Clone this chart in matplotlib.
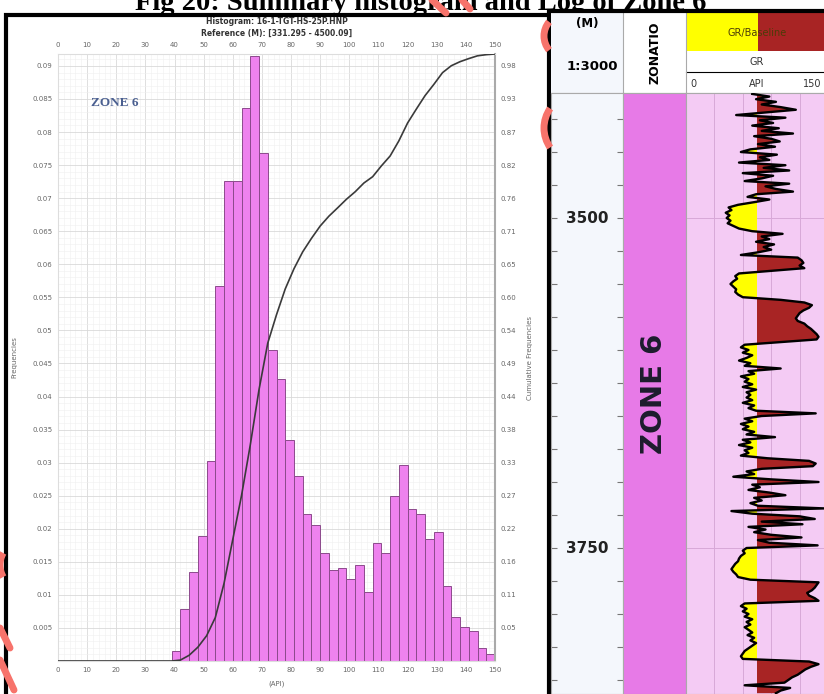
import numpy as np
import matplotlib
matplotlib.use("Agg")
import matplotlib.pyplot as plt
from matplotlib.patches import Rectangle, Arc
from matplotlib.lines import Line2D

W, H = 824, 694

# ---- GR histogram, zone 6 (3 API bins) ----
bin_edges = np.arange(39, 151, 3)
frequencies = [0.0015, 0.0079, 0.0134, 0.0189, 0.0302, 0.0567, 0.0726, 0.0726,
               0.0836, 0.0915, 0.0769, 0.0470, 0.0427, 0.0334, 0.0280, 0.0222,
               0.0205, 0.0163, 0.0138, 0.0141, 0.0124, 0.0145, 0.0104, 0.0179,
               0.0164, 0.0250, 0.0296, 0.0230, 0.0223, 0.0185, 0.0195, 0.0114,
               0.0067, 0.0051, 0.0046, 0.0019, 0.0011]
freq_ticks = np.arange(0.005, 0.0901, 0.005)
api_ticks = np.arange(0, 151, 10)
freq_top = 0.0918

# ---- GR log, 2 m sampling ----
depth = np.arange(3406, 3861, 2)
gr = np.array([
    70, 88, 74, 95, 80, 100, 116, 84, 53, 105,
    78, 92, 70, 98, 80, 113, 72, 90, 99, 76,
    94, 68, 58, 96, 78, 88, 56, 105, 82, 109,
    60, 92, 80, 62, 109, 84, 95, 113, 74, 65,
    88, 72, 55, 45, 48, 42, 46, 43, 47, 44,
    50, 56, 70, 102, 80, 88, 74, 93, 82, 90,
    76, 58, 118, 122, 124, 120, 125, 90, 56, 52,
    54, 50, 47, 50, 53, 52, 55, 60, 100, 125,
    133, 130, 124, 120, 118, 116, 118, 125, 128, 132,
    135, 138, 140, 138, 100, 62, 58, 66, 60, 70,
    64, 56, 68, 62, 100, 66, 72, 58, 66, 62,
    70, 60, 74, 64, 68, 64, 70, 60, 72, 66,
    74, 137, 80, 62, 70, 58, 66, 60, 72, 64,
    94, 60, 68, 56, 70, 62, 66, 58, 86, 130,
    137, 134, 80, 64, 72, 50, 90, 140, 70, 78,
    66, 88, 105, 72, 80, 68, 76, 146, 48, 70,
    120, 136, 80, 123, 66, 84, 72, 90, 122, 76,
    88, 139, 64, 60, 62, 58, 56, 55, 52, 50,
    48, 50, 53, 55, 68, 140, 138, 136, 133, 128,
    130, 136, 140, 62, 58, 64, 60, 66, 62, 70,
    64, 68, 62, 66, 70, 65, 72, 68, 74, 70,
    66, 62, 60, 58, 60, 130, 140, 132, 126, 122,
    118, 112, 108, 104, 62, 110, 100, 95])
gr_baseline = 75
gr_scale = (0, 150)
zone_name = "ZONE 6"
zone_top, zone_base = 3380, 3880
depth_labels = [3500, 3750]
depth_view = (3405.3, 3860.6)

BAR = "#ee82ee"
BAR_EDGE = "#8c4a8c"
PINK = "#f4cbf4"
MAGENTA = "#e77ae7"
YELLOW = "#ffff00"
DARKRED = "#a82424"
SALMON = "#f7736b"


def box(x0, y0, x1, y1):
    return [x0 / W, 1 - y1 / H, (x1 - x0) / W, (y1 - y0) / H]


def px(x, y):
    return x / W, 1 - y / H


fig = plt.figure(figsize=(W / 100, H / 100), dpi=100)
fig.patch.set_facecolor("white")

# left panel frame, behind the histogram axes
fig.patches.append(Rectangle(px(6, 700), 543 / W, 685 / H, transform=fig.transFigure,
                             facecolor="white", edgecolor="black", lw=3, zorder=-1))

fig.text(*px(421, 10), "Fig 20: Summary histogram and Log of Zone 6",
         ha="center", va="baseline", fontsize=20.5, fontweight="bold",
         family="Liberation Serif", zorder=-2)

# ---- histogram ----
ax = fig.add_axes(box(58, 54, 495, 661))
ax.bar(bin_edges[:-1], frequencies, width=np.diff(bin_edges), align="edge",
       color=BAR, edgecolor=BAR_EDGE, linewidth=0.7, zorder=2)
ax.set_xlim(0, 150)
ax.set_ylim(0, freq_top)
ax.set_xticks(api_ticks)
ax.set_xticks(np.arange(0, 151, 2), minor=True)
ax.set_yticks(freq_ticks)
ax.set_yticklabels([f"{t:g}" for t in freq_ticks])
ax.set_yticks(np.arange(0, freq_top, 0.001), minor=True)
ax.grid(which="major", color="#d9d9d9", lw=0.6, zorder=0)
ax.grid(which="minor", color="#efefef", lw=0.4, zorder=0)
ax.set_axisbelow(True)
ax.tick_params(which="both", length=0, labelsize=5, labelcolor="#666666",
               labeltop=True, pad=4)
for side in ["left", "top", "bottom"]:
    ax.spines[side].set_color("#dddddd")
ax.spines["right"].set_color("#aaaaaa")
ax.spines["right"].set_linewidth(1.5)
ax.set_xlabel("(API)", fontsize=5, color="#666666", labelpad=6)
ax.set_ylabel("Frequencies", fontsize=5, color="#666666", labelpad=11)

ax2 = ax.twinx()
cum = np.concatenate([[0, 0], np.cumsum(frequencies)]) / np.sum(frequencies)
ax2.plot(np.concatenate([[0], bin_edges]), cum, color="#3a3a3a", lw=1.2, zorder=3)
ax2.set_ylim(0, 1)
ax2.set_yticks(freq_ticks / freq_top)
ax2.set_yticklabels([f"{t / freq_top:.2f}" for t in freq_ticks])
ax2.tick_params(length=0, labelsize=5, labelcolor="#666666", pad=4)
ax2.set_ylabel("Cumulative Frequencies", fontsize=5, color="#666666", labelpad=8)
for sp in ax2.spines.values():
    sp.set_visible(False)

fig.text(*px(277, 21), "Histogram: 16-1-TGT-HS-25P.HNP", ha="center", va="center",
         fontsize=5.5, fontweight="bold", color="#333333")
fig.text(*px(277, 33), "Reference (M): [331.295 - 4500.09]", ha="center", va="center",
         fontsize=5.5, fontweight="bold", color="#333333")
ax.text(0.13, 0.92, zone_name, transform=ax.transAxes, ha="center", va="center",
        fontsize=9.5, fontweight="bold", family="Liberation Serif", color="#4a5f90")

# ---- log panel ----
fig.add_artist(Line2D([549 / W, 1], [1 - 11 / H] * 2, color="black", lw=3))

hdr = fig.add_axes(box(551, 13, 824, 93))
hdr.set_xlim(551, 824)
hdr.set_ylim(93, 13)
hdr.axis("off")
hdr.add_patch(Rectangle((551, 13), 72, 80, facecolor="#f4f7fc", edgecolor="none"))
hdr.add_patch(Rectangle((686, 13), 72, 38, facecolor=YELLOW, edgecolor="none"))
hdr.add_patch(Rectangle((758, 13), 70, 38, facecolor=DARKRED, edgecolor="none"))
hdr.plot([686, 824], [72, 72], color="black", lw=0.8)
hdr.plot([551, 824], [93, 93], color="#999999", lw=0.8)
for xv in (623, 686):
    hdr.plot([xv, xv], [13, 93], color="#aaaaaa", lw=0.8)
hdr.text(587, 23, "(M)", ha="center", va="center", fontsize=8.5, fontweight="bold")
hdr.text(592, 67, "1:3000", ha="center", va="center", fontsize=9.5, fontweight="bold")
hdr.text(655, 53, "ZONATIO", ha="center", va="center", rotation=90, fontsize=9,
         fontweight="bold")
hdr.text(757, 33, "GR/Baseline", ha="center", va="center", fontsize=7, color="#4c3c08")
hdr.text(757, 62, "GR", ha="center", va="center", fontsize=7, color="#333333")
hdr.text(693, 84, "0", ha="center", va="center", fontsize=7, color="#333333")
hdr.text(757, 84, "API", ha="center", va="center", fontsize=7, color="#333333")
hdr.text(812, 84, "150", ha="center", va="center", fontsize=7, color="#333333")

# depth track
axd = fig.add_axes(box(551, 93, 623, 694))
axd.set_facecolor("#f4f7fc")
axd.set_ylim(depth_view[1], depth_view[0])
axd.set_xlim(0, 1)
axd.set_xticks([])
axd.set_yticks(np.arange(3425, 3860, 25))
axd.tick_params(axis="y", left=True, right=True, direction="in", length=4,
                color="#777777", labelleft=False)
for sp in axd.spines.values():
    sp.set_color("#aaaaaa")
for d in depth_labels:
    axd.text(0.5, d, str(d), ha="center", va="center", fontsize=11,
             fontweight="bold", color="#222222")

# zonation track
axz = fig.add_axes(box(623, 93, 686, 694))
axz.set_ylim(depth_view[1], depth_view[0])
axz.set_xlim(0, 1)
axz.axhspan(zone_top, zone_base, color=MAGENTA)
axz.set_xticks([])
axz.set_yticks([])
for sp in axz.spines.values():
    sp.set_color("#aaaaaa")
axz.text(0.5, 0.5, zone_name, transform=axz.transAxes, ha="center", va="center",
         rotation=90, fontsize=21, fontweight="bold", color="#1c1c2c")

# GR track
axg = fig.add_axes(box(686, 93, 828, 694))
axg.set_facecolor(PINK)
axg.set_xlim(*gr_scale)
axg.set_ylim(depth_view[1], depth_view[0])
axg.set_xticks(np.arange(30, 150, 30))
axg.set_yticks(depth_labels)
axg.grid(color="#d8a8d8", lw=0.7)
axg.tick_params(length=0, labelbottom=False, labelleft=False)
for sp in axg.spines.values():
    sp.set_color("#aaaaaa")
axg.fill_betweenx(depth, gr, gr_baseline, where=gr < gr_baseline, interpolate=True,
                  color=YELLOW, lw=0, zorder=2)
axg.fill_betweenx(depth, gr, gr_baseline, where=gr >= gr_baseline, interpolate=True,
                  color=DARKRED, lw=0, zorder=2)
axg.plot(gr, depth, color="black", lw=1.7, zorder=3)

# slide background swirls peeking out around the panels
deco = fig.add_axes([0, 0, 1, 1], zorder=10)
deco.set_xlim(0, W)
deco.set_ylim(H, 0)
deco.axis("off")
for cx, cy, r, t1, t2 in [(566, 36, 22, 140, 220), (578, 128, 34, 145, 215),
                          (24, 565, 24, 150, 210)]:
    deco.add_patch(Arc((cx, cy), 2 * r, 2 * r, theta1=t1, theta2=t2,
                       color=SALMON, lw=5, clip_on=False))
for x0, y0, x1, y1 in [(432, 0, 446, 13), (462, 0, 470, 9), (0, 628, 10, 648),
                       (0, 660, 14, 690)]:
    deco.plot([x0, x1], [y0, y1], color=SALMON, lw=5, solid_capstyle="round")

fig.savefig("out.png", dpi=100)
